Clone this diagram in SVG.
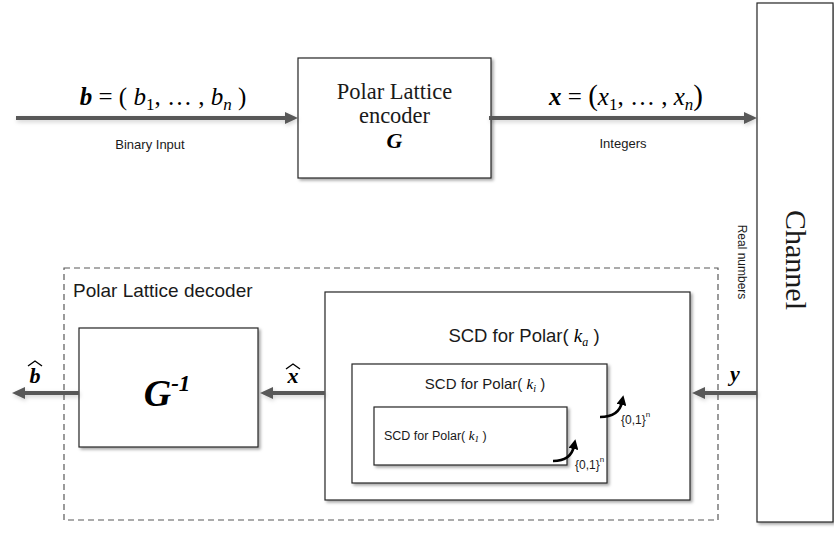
<svg xmlns="http://www.w3.org/2000/svg" width="834" height="533" viewBox="0 0 834 533">
  <style>
    .box { fill: #ffffff; stroke: #262626; stroke-width: 1.2; }
    .flow { fill: none; stroke: #595959; stroke-width: 4; }
    .hook { fill: none; stroke: #000000; stroke-width: 2.6; }
    .sans { font-family: "Liberation Sans", Arial, sans-serif; fill: #1a1a1a; }
    .serif { font-family: "Liberation Serif", "Times New Roman", serif; fill: #1a1a1a; }
    .math { font-family: "Liberation Serif", "DejaVu Serif", serif; font-style: italic; fill: #000000; }
    .bold { font-weight: bold; }
  </style>
  <defs>
    <marker id="head" markerUnits="userSpaceOnUse" markerWidth="13" markerHeight="12" refX="5" refY="6" orient="auto">
      <path d="M0,0 L13,6 L0,12 Z" fill="#595959"/>
    </marker>
    <marker id="tip" markerUnits="userSpaceOnUse" markerWidth="10" markerHeight="10" refX="3" refY="5" orient="auto">
      <path d="M0,0 L10,5 L0,10 Z" fill="#000000"/>
    </marker>
    <filter id="shadow" x="-10%" y="-10%" width="125%" height="125%">
      <feDropShadow dx="2" dy="2" stdDeviation="1.5" flood-color="#000000" flood-opacity="0.35"/>
    </filter>
    <filter id="glow" filterUnits="userSpaceOnUse" x="0" y="0" width="834" height="533">
      <feDropShadow dx="1" dy="2" stdDeviation="2" flood-color="#000000" flood-opacity="0.18"/>
    </filter>
  </defs>

  <!-- encoder -->
  <g id="encoder">
    <rect class="box" x="298" y="58" width="193" height="120" filter="url(#shadow)"/>
    <text class="serif" x="394.5" y="99" font-size="22.5" text-anchor="middle">Polar Lattice</text>
    <text class="serif" x="394.5" y="123" font-size="22.5" text-anchor="middle">encoder</text>
    <text class="math bold" x="394.5" y="148" font-size="22" text-anchor="middle">G</text>
  </g>

  <!-- channel -->
  <g id="channel">
    <rect class="box" x="757" y="3" width="76" height="519" stroke="#595959" filter="url(#shadow)"/>
    <text class="serif" font-size="30" text-anchor="middle" transform="translate(786,260) rotate(90)">Channel</text>
  </g>

  <!-- decoder frame -->
  <g id="decoder">
    <rect x="64" y="268" width="654" height="252" fill="none" stroke="#595959" stroke-width="1.2" stroke-dasharray="6 4"/>
    <text class="sans" x="73" y="297" font-size="19">Polar Lattice decoder</text>
  </g>

  <!-- inverse generator -->
  <g id="ginv">
    <rect class="box" x="79" y="328" width="179" height="119" filter="url(#shadow)"/>
    <text class="math bold" x="167" y="406" font-size="38" text-anchor="middle">G<tspan font-size="23" dy="-15">-1</tspan></text>
  </g>

  <!-- successive cancellation decoders -->
  <g id="scd-a">
    <rect class="box" x="325" y="292" width="365" height="208" filter="url(#shadow)"/>
    <text class="sans" x="524" y="342" font-size="18.5" text-anchor="middle">SCD for Polar( <tspan class="math" font-size="19">k</tspan><tspan class="math" font-size="12" dy="4">a</tspan><tspan dy="-4"> )</tspan></text>
  </g>
  <g id="scd-i">
    <rect class="box" x="352" y="364" width="255" height="119" filter="url(#shadow)"/>
    <text class="sans" x="485" y="389" font-size="15" text-anchor="middle">SCD for Polar( <tspan class="math" font-size="15">k</tspan><tspan class="math" font-size="10" dy="3">i</tspan><tspan dy="-3"> )</tspan></text>
  </g>
  <g id="scd-1">
    <rect class="box" x="374" y="407" width="193" height="58" filter="url(#shadow)"/>
    <text class="sans" x="384" y="440" font-size="12.5">SCD for Polar( <tspan class="math" font-size="13">k</tspan><tspan class="math" font-size="9" dy="2">1</tspan><tspan dy="-2"> )</tspan></text>
  </g>

  <!-- connectors -->
  <g id="connectors">
    <line class="flow" x1="16" y1="118" x2="290" y2="118" marker-end="url(#head)" filter="url(#glow)"/>
    <line class="flow" x1="489" y1="118" x2="749" y2="118" marker-end="url(#head)" filter="url(#glow)"/>
    <line class="flow" x1="757" y1="393" x2="700" y2="393" marker-end="url(#head)" filter="url(#glow)"/>
    <line class="flow" x1="325" y1="393" x2="268" y2="393" marker-end="url(#head)" filter="url(#glow)"/>
    <line class="flow" x1="79" y1="393" x2="20" y2="393" marker-end="url(#head)" filter="url(#glow)"/>
    <path class="hook" d="M553,461 Q571,461 574,446" marker-end="url(#tip)"/>
    <path class="hook" d="M600,417 Q619,417 622,402" marker-end="url(#tip)"/>
  </g>

  <!-- connector labels -->
  <g id="labels">
    <text class="math" x="163" y="105" font-size="25" text-anchor="middle"><tspan class="bold">b</tspan><tspan font-style="normal"> = (  </tspan>b<tspan font-size="17" font-style="normal" dy="5">1</tspan><tspan font-style="normal" dy="-5">, … , </tspan>b<tspan font-size="17" dy="5">n</tspan><tspan font-style="normal" dy="-5">  )</tspan></text>
    <text class="sans" x="150" y="149" font-size="13" text-anchor="middle">Binary Input</text>
    <text class="math" x="626" y="105" font-size="25" text-anchor="middle"><tspan class="bold">x</tspan><tspan font-style="normal"> = </tspan><tspan font-style="normal" font-size="29">(</tspan>x<tspan font-size="17" font-style="normal" dy="5">1</tspan><tspan font-style="normal" dy="-5">, … , </tspan>x<tspan font-size="17" dy="5">n</tspan><tspan font-style="normal" font-size="29" dy="-5">)</tspan></text>
    <text class="sans" x="623" y="148" font-size="13" text-anchor="middle">Integers</text>
    <text class="sans" font-size="12" text-anchor="middle" transform="translate(738,262) rotate(90)">Real numbers</text>
    <text class="math bold" x="735" y="381" font-size="22" text-anchor="middle">y</text>
    <text class="math bold" x="293" y="383" font-size="22" text-anchor="middle">x</text>
    <path d="M286,369 L293,364 L300,369" fill="none" stroke="#000" stroke-width="1.4"/>
    <text class="math bold" x="35" y="383" font-size="22" text-anchor="middle">b</text>
    <path d="M28,366 L35,361 L42,366" fill="none" stroke="#000" stroke-width="1.4"/>
    <text class="sans" x="575" y="469" font-size="12">{0,1}<tspan font-size="8" dy="-7">n</tspan></text>
    <text class="sans" x="621" y="424" font-size="12">{0,1}<tspan font-size="8" dy="-7">n</tspan></text>
  </g>
</svg>
